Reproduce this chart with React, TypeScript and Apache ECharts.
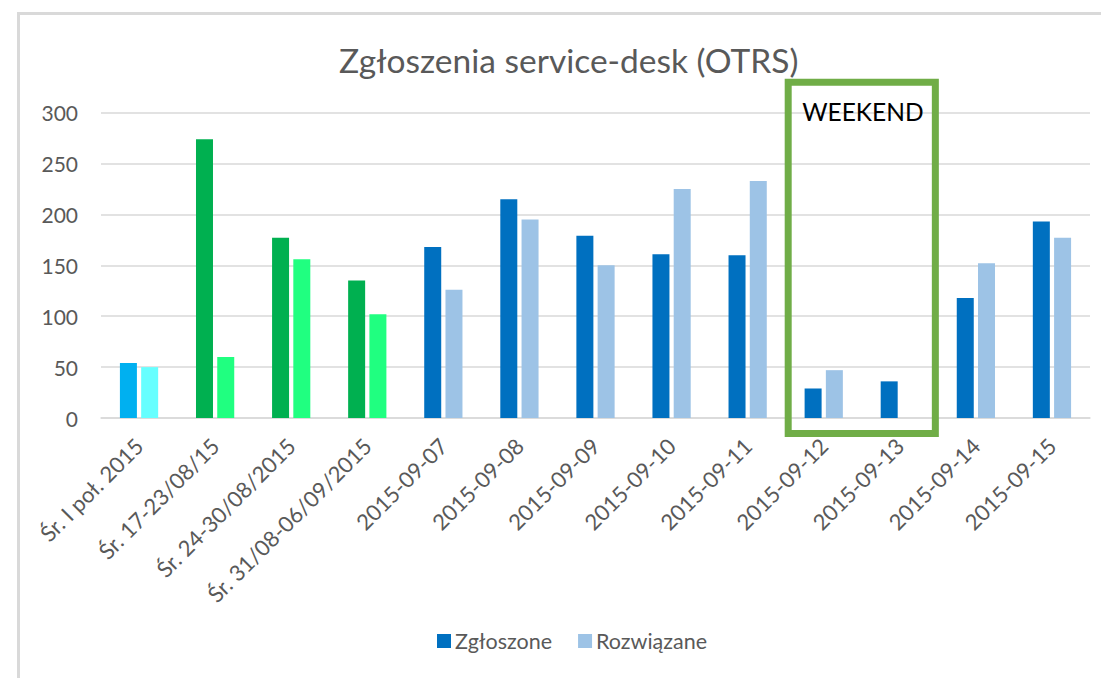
import React, { useEffect, useRef } from "react";
import * as echarts from "echarts";

const categories = [
  "Śr. I poł. 2015",
  "Śr. 17-23/08/15",
  "Śr. 24-30/08/2015",
  "Śr. 31/08-06/09/2015",
  "2015-09-07",
  "2015-09-08",
  "2015-09-09",
  "2015-09-10",
  "2015-09-11",
  "2015-09-12",
  "2015-09-13",
  "2015-09-14",
  "2015-09-15",
];
const zgloszone = [54, 274, 177, 135, 168, 215, 179, 161, 160, 29, 36, 118, 193];
const rozwiazane = [50, 60, 156, 102, 126, 195, 150, 225, 233, 47, 0, 152, 177];
const yTicks = [0, 50, 100, 150, 200, 250, 300];
const weekend = ["2015-09-12", "2015-09-13"];

const colorsZ = ["#00B0F0", "#00B050", "#00B050", "#00B050"];
const colorsR = ["#66FFFF", "#20FF80", "#20FF80", "#20FF80"];
const baseZ = "#0070C0";
const baseR = "#9DC3E6";

const FONT = "Lato, 'Open Sans', sans-serif";

export default function App() {
  const ref = useRef<HTMLDivElement>(null);
  useEffect(() => {
    if (!ref.current) return;
    const chart = echarts.init(ref.current, undefined, { renderer: "svg" });
    const option: any = {
      animation: false,
      backgroundColor: "#ffffff",
      textStyle: { fontFamily: FONT },
      title: {
        text: "Zgłoszenia service-desk (OTRS)",
        left: 334,
        top: 38,
        textStyle: { fontFamily: FONT, fontSize: 33.5, fontWeight: "normal", color: "#595959" },
      },
      legend: {
        bottom: 21,
        left: 432,
        itemWidth: 14,
        itemHeight: 14,
        itemGap: 26,
        icon: "rect",
        textStyle: { fontFamily: FONT, fontSize: 21.5, color: "#595959", padding: [0, 0, 0, -1] },
        data: ["Zgłoszone", "Rozwiązane"],
      },
      grid: { left: 101, right: 11, top: 112.7, bottom: 260, containLabel: false },
      xAxis: {
        type: "category",
        data: categories,
        axisLine: { show: true, lineStyle: { color: "#d9d9d9", width: 1.5 } },
        axisTick: { show: false },
        axisLabel: {
          interval: 0,
          rotate: 45,
          margin: 24,
          fontFamily: FONT,
          fontSize: 22,
          color: "#595959",
        },
      },
      yAxis: {
        type: "value",
        min: yTicks[0],
        max: yTicks[yTicks.length - 1],
        interval: 50,
        axisLine: { show: false },
        axisTick: { show: false },
        splitLine: { lineStyle: { color: "#d9d9d9", width: 1.5 } },
        axisLabel: { margin: 23, fontFamily: FONT, fontSize: 21, color: "#595959" },
      },
      series: [
        {
          name: "Zgłoszone",
          type: "bar",
          barWidth: 17,
          barGap: "25%",
          itemStyle: { color: baseZ },
          data: zgloszone.map((v, i) => ({ value: v, itemStyle: { color: colorsZ[i] || baseZ } })),
        },
        {
          name: "Rozwiązane",
          type: "bar",
          barWidth: 17,
          barGap: "25%",
          itemStyle: { color: baseR },
          data: rozwiazane.map((v, i) => ({ value: v, itemStyle: { color: colorsR[i] || baseR } })),
        },
      ],
    };
    chart.setOption(option);

    const c0 = chart.convertToPixel({ xAxisIndex: 0 }, weekend[0]) as number;
    const c1 = chart.convertToPixel({ xAxisIndex: 0 }, weekend[1]) as number;
    const band = c1 - c0;
    const yTop = chart.convertToPixel({ yAxisIndex: 0 }, 330) as number;
    const yZero = chart.convertToPixel({ yAxisIndex: 0 }, 0) as number;
    const rx = c0 - band / 2 + 2.5;
    const rw = c1 + band / 2 - 2.5 - rx;
    const ry = yTop;
    const rh = yZero + 15.5 - ry;

    chart.setOption({
      graphic: [
        { type: "line", shape: { x1: 17, y1: 13.5, x2: 1101, y2: 13.5 }, style: { stroke: "#d9d9d9", lineWidth: 3 } },
        { type: "line", shape: { x1: 18.5, y1: 12, x2: 18.5, y2: 678 }, style: { stroke: "#d9d9d9", lineWidth: 3 } },
        {
          type: "rect",
          shape: { x: rx, y: ry, width: rw, height: rh },
          style: { fill: "none", stroke: "#70AD47", lineWidth: 7 },
          z: 10,
        },
        {
          type: "text",
          x: rx + 14,
          y: ry + 29,
          style: {
            text: "WEEKEND",
            fill: "#000000",
            fontFamily: FONT,
            fontSize: 24.5,
            verticalAlign: "middle",
          },
          z: 11,
        },
      ],
    });

    return () => chart.dispose();
  }, []);
  return (
    <div
      ref={ref}
      style={{ position: "fixed", left: 0, top: 0, width: 1101, height: 678 }}
    />
  );
}
